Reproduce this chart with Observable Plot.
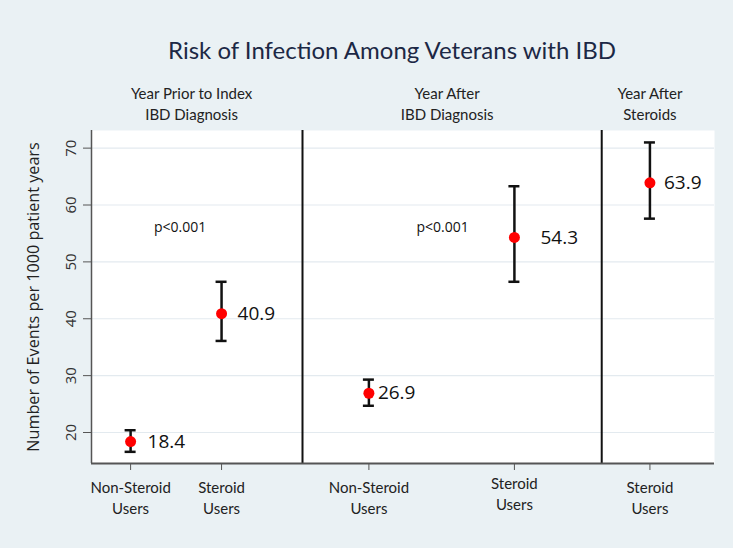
<!DOCTYPE html>
<html>
<head>
<meta charset="utf-8">
<script src="https://cdn.jsdelivr.net/npm/d3@7"></script>
<script src="https://cdn.jsdelivr.net/npm/@observablehq/plot@0.6"></script>
<style>
  html, body { margin: 0; padding: 0; background: #eaf1f4; }
  #chart svg { display: block; }
</style>
</head>
<body>
<div id="chart"></div>
<script>
// ---- data ----
const categories = ["Non-Steroid\nUsers", "Steroid\nUsers", "Non-Steroid\nUsers", "Steroid\nUsers", "Steroid\nUsers"];
const xPositions = [1, 2, 3.62, 5.22, 6.71];
const rates = [18.4, 40.9, 26.9, 54.3, 63.9];
const ciLow = [16.6, 36.1, 24.7, 46.5, 57.6];
const ciHigh = [20.4, 46.5, 29.3, 63.3, 71.0];
const groupLabels = ["Year Prior to Index\nIBD Diagnosis", "Year After\nIBD Diagnosis", "Year After\nSteroids"];
const groupCenters = [1.67, 4.48, 6.71];
const separators = [2.89, 6.18];
const pLabels = ["p<0.001", "p<0.001"];
const pX = [1.545, 4.43];
const pY = [56.1, 56.1];
const yTicks = [20, 30, 40, 50, 60, 70];
const title = "Risk of Infection Among Veterans with IBD";
const yLabel = "Number of Events per 1000 patient years";

// label offsets (style)
const labelDx = [17, 16, 9, 26, 14];
const tickDy = [0, 0, 0, -4, 0];

const points = xPositions.map((x, i) => ({x, y: rates[i], lo: ciLow[i], hi: ciHigh[i], label: rates[i].toFixed(1), dx: labelDx[i]}));
const groups = groupCenters.map((x, i) => ({x, label: groupLabels[i]}));
const pvals = pX.map((x, i) => ({x, y: pY[i], label: pLabels[i]}));
const xTicks = xPositions.map((x, i) => ({x, label: categories[i], dy: tickDy[i]}));

const font = "Lato, 'Open Sans', sans-serif";
const xDomain = [0.57, 7.42];
const yDomain = [14.55, 73.1];

const chart = Plot.plot({
  width: 733,
  height: 548,
  marginLeft: 91,
  marginRight: 19,
  marginTop: 130,
  marginBottom: 85,
  style: {background: "#eaf1f4", fontFamily: "'Open Sans', sans-serif", color: "#222"},
  x: {domain: xDomain},
  y: {domain: yDomain},
  marks: [
    Plot.frame({fill: "white", stroke: null}),
    Plot.gridY(yTicks, {stroke: "#e3eaef", strokeOpacity: 1, strokeWidth: 1.2}),
    Plot.ruleX(separators, {stroke: "#111", strokeWidth: 2}),
    Plot.ruleX([xDomain[0]], {stroke: "#555", strokeWidth: 1.5}),
    Plot.ruleY([yDomain[0]], {stroke: "#555", strokeWidth: 2}),
    Plot.axisY(yTicks, {
      tickSize: 8, tickRotate: -90, tickPadding: 8, fontSize: 15, stroke: "#555",
      fill: "#333", label: null
    }),
    Plot.text([yLabel], {frameAnchor: "left", textAnchor: "middle", lineAnchor: "middle", rotate: -90, dx: -58, fontSize: 16.2, fill: "#222"}),
    Plot.axisX(xPositions, {
      tickSize: 7, stroke: "#555", text: null, label: null
    }),
    ...xTicks.map(t => Plot.text([t], {x: "x", text: "label", frameAnchor: "bottom", lineAnchor: "top", dy: 15 + t.dy, lineHeight: 1.4, fontSize: 15, fontFamily: font, fill: "#222"})),
    Plot.ruleX(points, {x: "x", y1: "lo", y2: "hi", stroke: "#111", strokeWidth: 2.5}),
    Plot.ruleY(points, {y: "lo", x1: "x", x2: "x", insetLeft: -5.5, insetRight: -5.5, stroke: "#111", strokeWidth: 2.5}),
    Plot.ruleY(points, {y: "hi", x1: "x", x2: "x", insetLeft: -5.5, insetRight: -5.5, stroke: "#111", strokeWidth: 2.5}),
    Plot.dot(points, {x: "x", y: "y", r: 5.5, fill: "#ff0000", stroke: null}),
    ...points.map(p => Plot.text([p], {x: "x", y: "y", text: "label", dx: p.dx, textAnchor: "start", fontSize: 19, fill: "#111"})),
    Plot.text(pvals, {x: "x", y: "y", text: "label", fontSize: 14, fill: "#111"}),
    Plot.text(groups, {x: "x", text: "label", frameAnchor: "top", dy: -28, lineAnchor: "middle", lineHeight: 1.4, fontSize: 15, fontFamily: font, fill: "#222"}),
    Plot.text([title], {frameAnchor: "top", dx: -11, dy: -79, lineAnchor: "middle", fontSize: 24, fontFamily: font, fill: "#1c2845"})
  ]
});
document.getElementById("chart").append(chart);
</script>
</body>
</html>
